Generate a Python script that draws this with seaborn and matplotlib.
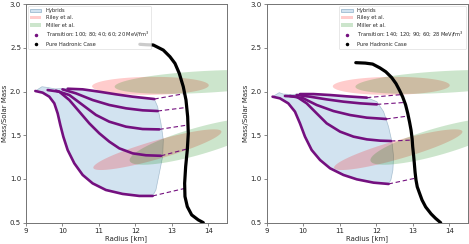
import numpy as np
import pandas as pd
import matplotlib
matplotlib.use("Agg")
import matplotlib.pyplot as plt
import seaborn as sns
from matplotlib.patches import Patch
from matplotlib.lines import Line2D

# ---------------- data ----------------
# Left panel
L_had_x = [12.12, 12.30, 12.488, 12.762, 12.945, 13.082, 13.20, 13.31, 13.384, 13.43, 13.447, 13.42, 13.375,
           13.347, 13.356, 13.42, 13.54, 13.72, 13.858]
L_had_y = [2.54, 2.535, 2.532, 2.474, 2.398, 2.322, 2.208, 2.055, 1.903, 1.712, 1.522, 1.332, 1.141,
           0.951, 0.80, 0.684, 0.589, 0.532, 0.501]

L_c1_x = [9.256, 9.457, 9.639, 9.776, 9.868, 9.941, 10.023, 10.142, 10.324, 10.553, 10.826, 11.19, 11.648, 12.105, 12.47]
L_c1_y = [2.006, 1.987, 1.941, 1.865, 1.750, 1.617, 1.484, 1.331, 1.179, 1.046, 0.950, 0.874, 0.829, 0.806, 0.806]
L_c2_x = [9.594, 9.913, 10.187, 10.461, 10.735, 11.009, 11.283, 11.557, 11.922, 12.288, 12.70]
L_c2_y = [2.017, 1.998, 1.903, 1.770, 1.636, 1.522, 1.427, 1.350, 1.293, 1.271, 1.265]
L_c3_x = [9.82, 10.187, 10.553, 10.918, 11.283, 11.74, 12.196, 12.653]
L_c3_y = [2.01, 1.96, 1.846, 1.732, 1.655, 1.598, 1.571, 1.567]
L_c4_x = [10.0, 10.37, 10.826, 11.283, 11.74, 12.196, 12.607]
L_c4_y = [2.025, 1.979, 1.903, 1.846, 1.808, 1.785, 1.777]
L_c5_x = [10.142, 10.553, 11.009, 11.466, 11.922, 12.516]
L_c5_y = [2.032, 2.025, 1.998, 1.968, 1.941, 1.914]

L_dash_x0 = [12.47, 12.70, 12.653, 12.607, 12.516]
L_dash_y0 = [0.806, 1.265, 1.567, 1.777, 1.914]
L_dash_x1 = [13.36, 13.41, 13.43, 13.42, 13.384]
L_dash_y1 = [0.893, 1.343, 1.617, 1.819, 1.979]

L_top_x = [9.256, 9.438, 9.566, 9.80, 10.142, 10.553, 11.009, 11.466, 11.922, 12.516]
L_top_y = [2.006, 2.055, 2.048, 2.03, 2.036, 2.027, 1.998, 1.968, 1.941, 1.914]
L_edge_x = [12.607, 12.699, 12.763, 12.744, 12.653, 12.56]
L_edge_y = [1.827, 1.636, 1.446, 1.255, 1.065, 0.874]

# Right panel
R_had_x = [11.44, 11.70, 11.90, 12.10, 12.26, 12.42, 12.54, 12.64, 12.72, 12.80, 12.86, 12.91, 12.95, 12.98,
           12.995, 13.02, 13.04, 13.06, 13.085, 13.12, 13.18, 13.25, 13.35, 13.50, 13.62, 13.76]
R_had_y = [2.33, 2.325, 2.314, 2.27, 2.226, 2.16, 2.09, 2.01, 1.94, 1.85, 1.75, 1.65, 1.56, 1.46,
           1.37, 1.27, 1.18, 1.08, 0.99, 0.91, 0.84, 0.76, 0.68, 0.60, 0.55, 0.50]

R_c1_x = [9.165, 9.366, 9.594, 9.777, 9.914, 10.051, 10.234, 10.463, 10.737, 11.102, 11.468, 11.925, 12.336]
R_c1_y = [1.941, 1.922, 1.865, 1.770, 1.636, 1.484, 1.331, 1.217, 1.122, 1.046, 0.996, 0.958, 0.943]
R_c2_x = [9.503, 9.823, 10.097, 10.371, 10.645, 11.011, 11.377, 11.742, 12.108, 12.40]
R_c2_y = [1.949, 1.941, 1.865, 1.750, 1.636, 1.541, 1.484, 1.453, 1.438, 1.434]
R_c3_x = [9.64, 10.005, 10.371, 10.828, 11.285, 11.742, 12.272]
R_c3_y = [1.949, 1.922, 1.846, 1.777, 1.731, 1.701, 1.686]
R_c4_x = [9.823, 10.188, 10.645, 11.102, 11.559, 12.016]
R_c4_y = [1.96, 1.941, 1.91, 1.884, 1.865, 1.853]
R_c5_x = [9.914, 10.28, 10.737, 11.194, 11.742]
R_c5_y = [1.971, 1.971, 1.96, 1.945, 1.93]

R_dash_x0 = [12.336, 12.40, 12.272, 12.016, 11.742]
R_dash_y0 = [0.943, 1.434, 1.686, 1.853, 1.93]
R_dash_x1 = [13.08, 12.985, 12.875, 12.78, 12.69]
R_dash_y1 = [1.01, 1.445, 1.72, 1.875, 1.965]

R_top_x = [9.165, 9.347, 9.457, 9.70, 9.914, 10.28, 10.737, 11.194, 11.742]
R_top_y = [1.941, 1.987, 1.971, 1.965, 1.975, 1.975, 1.963, 1.947, 1.93]
R_edge_x = [12.016, 12.20, 12.336, 12.428, 12.473, 12.455, 12.40]
R_edge_y = [1.884, 1.77, 1.598, 1.427, 1.255, 1.103, 0.989]

# NICER credible regions: center, major half-axis vector, minor half-axis vector
riley_cx = [12.41, 12.60]
riley_cy = [2.065, 1.335]
riley_ax = [1.57, 1.755]
riley_ay = [0.025, 0.205]
riley_bx = [-0.30, 0.0]
riley_by = [0.10, 0.11]

miller_cx = [13.90, 13.70]
miller_cy = [2.11, 1.43]
miller_ax = [2.47, 1.86]
miller_ay = [0.055, 0.214]
miller_bx = [0.0, 0.0]
miller_by = [0.125, 0.16]

L_label = "Transition: 100; 80; 40; 60; 20 MeV/fm$^3$"
R_label = "Transition: 140; 120; 90; 60; 28 MeV/fm$^3$"
x_ticks = [9, 10, 11, 12, 13, 14]
y_ticks = [0.5, 1.0, 1.5, 2.0, 2.5, 3.0]

# ---------------- style ----------------
sns.set_theme(style="ticks")
plt.rcParams['font.family'] = ['DejaVu Sans']

PURPLE = "#74107f"
fig = plt.figure(figsize=(4.69, 2.44), dpi=100)
axL = fig.add_axes([0.0554, 0.0873, 0.428, 0.896])
axR = fig.add_axes([0.5683, 0.0873, 0.429, 0.896])

t = np.linspace(0, 2 * np.pi, 200)


def ellipse(cx, cy, ax_, ay_, bx, by):
    return (cx + np.cos(t) * ax_ + np.sin(t) * bx,
            cy + np.cos(t) * ay_ + np.sin(t) * by)


def panel(ax, had_x, had_y, curves, dx0, dy0, dx1, dy1, top_x, top_y, edge_x, edge_y, label, loc):
    low_x, low_y = curves[0]
    fx = list(top_x) + list(edge_x) + list(low_x[::-1])
    fy = list(top_y) + list(edge_y) + list(low_y[::-1])
    ax.fill(fx, fy, facecolor="tab:blue", alpha=0.2, edgecolor="none", zorder=1)
    ax.fill(fx, fy, facecolor="none", edgecolor="#7f9fb8", lw=0.5, alpha=0.6, zorder=1)
    for i in range(2):
        ex, ey = ellipse(riley_cx[i], riley_cy[i], riley_ax[i], riley_ay[i], riley_bx[i], riley_by[i])
        ax.fill(ex, ey, color="red", alpha=0.2, lw=0, zorder=2)
    for i in range(2):
        ex, ey = ellipse(miller_cx[i], miller_cy[i], miller_ax[i], miller_ay[i], miller_bx[i], miller_by[i])
        ax.fill(ex, ey, color="green", alpha=0.2, lw=0, zorder=2)
    for cx, cy in curves:
        sns.lineplot(x=cx, y=cy, sort=False, estimator=None, color=PURPLE, lw=1.9,
                     ax=ax, legend=False, zorder=4)
    for a, b, c, d in zip(dx0, dy0, dx1, dy1):
        sns.lineplot(x=[a, c], y=[b, d], sort=False, estimator=None, color=PURPLE, lw=0.8,
                     linestyle=(0, (4, 2.5)), ax=ax, legend=False, zorder=3)
    sns.lineplot(x=had_x, y=had_y, sort=False, estimator=None, color="black", lw=2.3,
                 ax=ax, legend=False, zorder=5)
    ax.set_xlim(9, 14.5)
    ax.set_ylim(0.5, 3.0)
    ax.set_xticks(x_ticks)
    ax.set_yticks(y_ticks)
    ax.set_xticklabels([str(v) for v in x_ticks])
    ax.set_yticklabels([f"{v:.1f}" for v in y_ticks])
    ax.tick_params(labelsize=5, length=2, width=0.5, pad=1.5, color="0.35")
    ax.set_xlabel("Radius [km]", fontsize=5, labelpad=1)
    ax.set_ylabel("Mass/Solar Mass", fontsize=5, labelpad=1)
    for s in ax.spines.values():
        s.set_color("0.45")
        s.set_linewidth(0.7)
    handles = [
        Patch(facecolor=(0.824, 0.887, 0.941), edgecolor="#8fb0c8", lw=0.5, label="Hybrids"),
        Patch(facecolor=(1, 0, 0, 0.2), edgecolor="none", label="Riley et al."),
        Patch(facecolor=(0, 0.5, 0, 0.2), edgecolor="none", label="Miller et al."),
        Line2D([], [], ls="none", marker="o", ms=1.5, color=PURPLE, label=label),
        Line2D([], [], ls="none", marker="o", ms=1.5, color="black", label="Pure Hadronic Case"),
    ]
    leg = ax.legend(handles=handles, loc=loc, fontsize=3.7, frameon=True,
                    borderaxespad=0.4, handlelength=2.2, labelspacing=0.45)
    leg.get_frame().set_linewidth(0.4)
    leg.set_zorder(10)


panel(axL, L_had_x, L_had_y,
      [(L_c1_x, L_c1_y), (L_c2_x, L_c2_y), (L_c3_x, L_c3_y), (L_c4_x, L_c4_y), (L_c5_x, L_c5_y)],
      L_dash_x0, L_dash_y0, L_dash_x1, L_dash_y1, L_top_x, L_top_y, L_edge_x, L_edge_y,
      L_label, "upper left")
panel(axR, R_had_x, R_had_y,
      [(R_c1_x, R_c1_y), (R_c2_x, R_c2_y), (R_c3_x, R_c3_y), (R_c4_x, R_c4_y), (R_c5_x, R_c5_y)],
      R_dash_x0, R_dash_y0, R_dash_x1, R_dash_y1, R_top_x, R_top_y, R_edge_x, R_edge_y,
      R_label, "upper right")

fig.savefig("out.png", dpi=100)
